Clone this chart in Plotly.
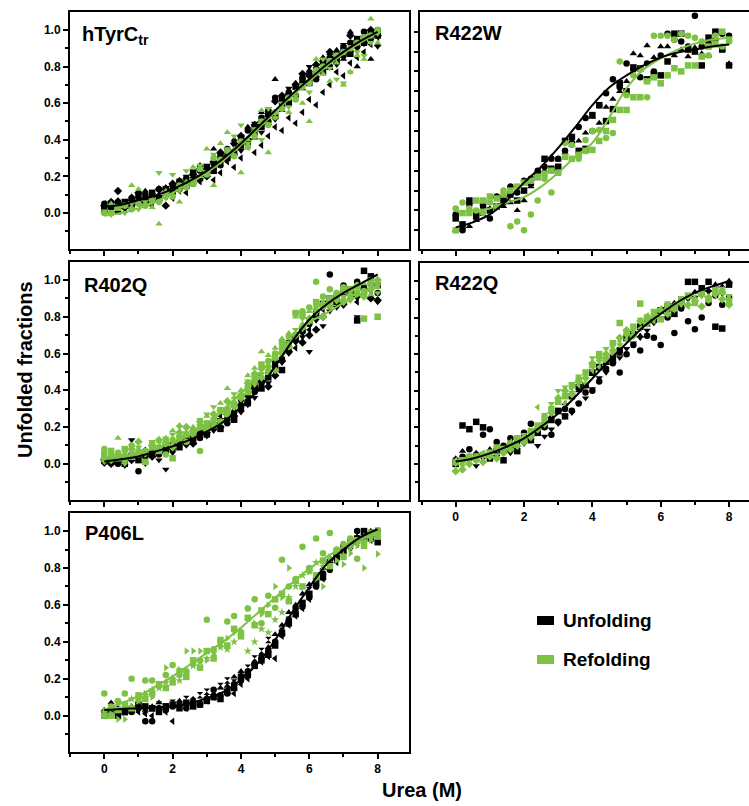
import plotly.graph_objects as go

# ---------------- data ----------------
X = [0.0, 0.2, 0.4, 0.6, 0.8, 1.0, 1.2, 1.4, 1.6, 1.8, 2.0, 2.2, 2.4, 2.6, 2.8, 3.0, 3.2, 3.4, 3.6, 3.8,
     4.0, 4.2, 4.4, 4.6, 4.8, 5.0, 5.2, 5.4, 5.6, 5.8, 6.0, 6.2, 6.4, 6.6, 6.8, 7.0, 7.2, 7.4, 7.6, 7.8, 8.0]
FX = [0.0, 0.5, 1.0, 1.5, 2.0, 2.5, 3.0, 3.5, 4.0, 4.5, 5.0, 5.5, 6.0, 6.5, 7.0, 7.5, 8.0]

panel_names = ["hTyrC<sub>tr</sub>", "R422W", "R402Q", "R422Q", "P406L"]
legend_labels = ["Unfolding", "Refolding"]

# hTyrCtr
p1_unf = {
    "square":        [.02, .05, .01, .06, .04, .09, .07, .11, .08, .13, .12, .17, .15, .22, .19, .25, .23, .31, .30, .33, .41, .39, .46, .47, .55, .53, .62, .60, .69, .72, .71, .78, .77, .84, .83, .90, .87, .95, .93, .98, .97],
    "circle":        [.05, .03, .06, .04, .08, .06, .10, .07, .13, .10, .15, .13, .19, .16, .23, .21, .27, .26, .35, .32, .37, .45, .43, .52, .50, .63, .58, .66, .64, .74, .76, .73, .82, .80, .87, .86, .93, .91, .99, .96, 1.0],
    "triangle-up":   [.01, .04, .07, .03, .09, .05, .12, .08, .07, .14, .11, .18, .14, .20, .26, .22, .35, .28, .33, .40, .36, .47, .41, .55, .49, .73, .56, .62, .71, .68, .78, .75, .85, .79, .89, .84, .99, .80, .97, .84, .92],
    "triangle-down": [.03, .0, .05, .02, .03, .08, .05, .10, .06, .09, .14, .12, .20, .17, .18, .26, .24, .32, .29, .37, .34, .40, .49, .44, .57, .51, .59, .68, .64, .70, .80, .74, .78, .86, .81, .92, .88, .90, .96, .94, .91],
    "diamond":       [.04, .06, .12, .05, .07, .11, .06, .09, .13, .04, .16, .14, .17, .21, .24, .20, .28, .33, .31, .38, .42, .40, .48, .50, .53, .61, .64, .65, .70, .76, .75, .81, .83, .88, .85, .87, .97, .94, .93, 1.0, .97],
    "triangle-left": [.05, .02, .04, .03, .06, .05, .07, .04, .10, .09, .08, .12, .11, .19, .17, .21, .18, .22, .28, .25, .30, .36, .33, .37, .42, .47, .45, .52, .49, .55, .62, .59, .66, .70, .77, .75, .82, .85, .88, .92, .96],
}
p1_ref = {
    "triangle-up":   [.0, .05, .02, .04, .15, .13, .05, .03, -.06, .12, .10, .06, .17, .25, .20, .35, .15, .38, .44, .35, .22, .40, .45, .56, .33, .52, .58, .55, .66, .60, .50, .84, .76, .72, .82, .70, .77, .86, .84, 1.06, .93],
    "triangle-down": [.01, -.01, .03, .0, .05, .02, .06, .07, .22, .08, .21, .12, .23, .18, .26, .22, .32, .28, .35, .42, .48, .38, .46, .40, .57, .52, .60, .58, .64, .70, .66, .76, .84, .79, .73, .71, .77, .88, .86, .93, .98],
    "circle":        [.0, .0, .03, .04, .02, .05, .04, .07, .06, .10, .09, .15, .14, .16, .24, .21, .30, .29, .34, .31, .39, .36, .42, .50, .48, .55, .57, .63, .62, .69, .71, .78, .80, .83, .86, .88, .90, .93, .96, .97, 1.0],
}
p1_fit_unf = [.035, .045, .07, .095, .13, .175, .23, .30, .38, .47, .56, .65, .73, .81, .88, .94, .99]
p1_fit_ref = [-.015, .0, .025, .06, .11, .16, .22, .29, .37, .46, .55, .64, .72, .80, .87, .93, .985]

# R422W
p2_unf = {
    "square":      [.06, .03, .15, .07, .14, .10, .12, .16, .18, .15, .20, .24, .28, .36, .31, .32, .45, .47, .40, .41, .58, .63, .55, .61, .74, .70, .82, .815, .76, .785, .78, .85, .99, .99, .91, .90, .83, .97, 1.0, .91, .83],
    "circle":      [.08, .0, .13, .09, .12, .06, .17, .14, .22, .19, .25, .26, .30, .32, .36, .36, .40, .44, .52, .565, .50, .63, .69, .76, .72, .84, .81, .77, .84, .80, .88, .99, .96, .95, .925, 1.08, .925, .94, .96, .99, .98],
    "triangle-up": [.0, .015, .02, .05, .08, .11, .17, .12, .14, .10, .15, .22, .26, .30, .37, .355, .39, .43, .45, .49, .57, .54, .62, .66, .70, .75, .89, .88, .93, .87, .925, .925, .88, .91, .875, .92, .89, .88, .93, .91, .84],
}
p2_ref = {
    "square": [.0, .087, .087, .15, .15, .17, .16, .18, .20, .22, .24, .25, .27, .285, .30, .29, .37, .36, .38, .40, .405, .45, .50, .556, .606, .606, .67, .67, .75, .77, .74, .78, .816, .80, .83, .83, .875, .925, .94, 1.0, .96],
    "circle": [.11, .14, .11, .10, .087, .14, .12, .20, .02, .045, .0, .08, .15, .26, .19, .29, .44, .43, .36, .455, .50, .505, .465, .49, .85, .68, .78, .81, .67, .98, .98, .98, .96, .99, .98, .97, .95, .88, .98, .925, .95],
}
p2_fit_unf = [.015, .04, .08, .15, .24, .32, .415, .52, .63, .72, .78, .83, .87, .895, .91, .925, .935]
p2_fit_ref = [.095, .10, .11, .14, .167, .22, .29, .37, .44, .57, .715, .81, .866, .91, .94, .96, .97]

# R402Q
p3_unf = {
    "square":        [.02, .01, .03, .0, .04, .02, .06, .05, .08, .07, .10, .09, .14, .12, .17, .16, .20, .19, .25, .24, .30, .33, .43, .41, .47, .52, .51, .62, .68, .73, .78, .81, .87, .90, .88, .93, .95, .78, 1.05, 1.02, .97],
    "circle":        [.01, .03, .0, .02, .05, -.04, .04, .06, .05, .10, .08, .12, .11, .15, .14, .19, .21, .23, .22, .28, .35, .34, .39, .44, .49, .55, .57, .66, .70, .72, .76, .83, .86, 1.03, .91, .97, .94, .99, .96, .98, .93],
    "triangle-down": [.0, .02, .01, -.01, .13, .03, .0, .09, .02, -.03, .06, .11, .10, .13, .18, .15, .18, .24, .29, .31, .28, .32, .36, .46, .44, .50, .55, .60, .66, .69, .61, .78, .75, .83, .85, .86, .89, .80, .92, .90, .88],
    "diamond":       [.02, .0, .01, .03, .02, .05, .07, .04, .06, .08, .09, .12, .13, .11, .16, .17, .22, .20, .27, .26, .32, .37, .41, .45, .42, .48, .56, .61, .67, .66, .70, .73, .80, .86, .88, .87, .93, .91, .95, .90, .89],
    "triangle-left": [.01, .02, .04, .03, .05, .04, .06, .07, .09, .10, .11, .10, .14, .16, .19, .21, .22, .26, .29, .27, .33, .38, .45, .48, .51, .54, .66, .65, .63, .71, .73, .80, .84, .89, .91, .89, .92, .88, .96, .94, .98],
}
p3_ref = {
    "circle":        [.08, .04, .06, .02, .10, .05, .07, .11, .09, .05, .13, .15, .12, .17, .07, .19, .24, .23, .30, .33, .36, .42, .45, .52, .56, .60, .63, .69, .82, .83, .85, .99, .91, .95, .93, .96, .90, .97, .94, 1.0, .98],
    "square":        [.05, .07, .03, .08, .04, .06, .01, .09, .07, .12, .03, .14, .16, .18, .20, .22, .21, .29, .27, .32, .37, .39, .47, .54, .50, .58, .66, .64, .82, .81, .78, .88, .86, .90, .92, .94, .95, .93, .79, .99, .80],
    "triangle-up":   [.02, .05, .14, .06, .03, .08, .07, .10, .12, .14, .18, .21, .16, .20, .22, .26, .25, .33, .41, .36, .40, .48, .52, .61, .59, .63, .68, .71, .80, .76, .83, .86, .88, .87, .93, .90, .95, .96, .98, .92, .96],
    "triangle-down": [.01, .03, .04, .0, .06, .09, .05, .12, .08, .14, .16, .20, .19, .15, .24, .27, .31, .30, .28, .38, .35, .45, .43, .49, .55, .57, .62, .66, .73, .79, .77, .82, .85, .87, .90, .91, .89, .94, .92, .97, .93],
    "diamond":       [.03, .02, .05, .04, .08, .12, .06, .10, .13, .11, .09, .17, .20, .18, .23, .21, .27, .29, .34, .31, .37, .44, .49, .47, .53, .51, .60, .64, .70, .74, .79, .84, .80, .86, .89, .88, .92, .97, .91, .95, 1.0],
}
p3_fit_unf = [.013, .025, .04, .067, .095, .13, .175, .23, .31, .40, .53, .667, .785, .867, .93, .98, 1.03]
p3_fit_ref = [.03, .04, .06, .085, .11, .158, .21, .295, .385, .485, .585, .676, .77, .82, .875, .92, .97]

# R422Q
p4_unf = {
    "square":        [.0, .21, .19, .23, .20, .03, .07, .02, .09, .07, .14, .13, .17, .21, .24, .29, .26, .37, .42, .43, .50, .53, .56, .58, .62, .69, .71, .75, .78, .79, .84, .86, .82, .89, .995, .995, .96, .995, .75, .74, .98],
    "circle":        [.02, .04, .08, .05, .16, .19, .12, .10, .14, .12, .17, .22, .18, .20, .16, .23, .30, .29, .33, .39, .40, .45, .52, .55, .50, .60, .65, .62, .70, .69, .65, .80, .716, .85, .78, .736, .80, .88, .92, .87, .91],
    "triangle-up":   [.03, .07, .04, .06, .05, .08, .09, .07, .12, .14, .13, .16, .20, .23, .26, .28, .33, .37, .40, .43, .49, .52, .55, .56, .60, .68, .72, .70, .76, .80, .83, .86, .88, .87, .91, .94, .93, .95, .98, .97, 1.0],
    "triangle-down": [.0, .01, .02, -.01, .03, .05, .04, .07, .06, .09, .11, .13, .10, .15, .19, .22, .26, .28, .33, .36, .41, .47, .50, .55, .58, .63, .66, .69, .73, .77, .80, .83, .86, .85, .90, .91, .92, .94, .96, .93, .98],
}
p4_ref = {
    "diamond":       [-.04, -.03, .0, .02, .01, .04, .03, .06, .08, .10, .12, .15, .19, .22, .28, .36, .40, .38, .45, .47, .55, .58, .60, .62, .69, .73, .70, .78, .77, .80, .84, .82, .86, .88, .87, .89, .86, .91, .93, .90, .87],
    "square":        [.01, .02, .04, .03, .05, .06, .09, .08, .11, .14, .13, .18, .21, .25, .30, .34, .37, .43, .46, .50, .54, .60, .57, .66, .77, .72, .75, .876, .80, .83, .79, .86, .85, .90, .92, .88, .93, .90, .95, .94, .89],
    "triangle-down": [.0, -.01, .03, .05, .04, .07, .05, .09, .10, .13, .16, .14, .20, .27, .33, .40, .42, .39, .48, .44, .58, .56, .63, .60, .65, .70, .74, .79, .76, .81, .83, .88, .84, .87, .91, .90, .92, .89, .94, .96, .92],
    "triangle-left": [.02, .0, .01, .04, .06, .05, .08, .07, .12, .10, .15, .17, .31, .26, .29, .35, .33, .41, .43, .49, .51, .53, .59, .64, .67, .68, .72, .74, .81, .78, .85, .82, .87, .89, .86, .91, .93, .90, .92, .95, .91],
}
p4_fit_unf = [.013, .03, .058, .095, .14, .204, .276, .367, .467, .567, .66, .75, .82, .885, .935, .97, 1.0]

# P406L
p5_unf = {
    "square":        [.0, .03, .0, .02, .03, .06, .05, .04, .02, .05, .06, .04, .07, .05, .06, .08, .10, .09, .13, .15, .21, .22, .27, .30, .33, .38, .45, .50, .55, .61, .66, .72, .75, .83, .86, .89, .93, .96, 1.0, .96, .94],
    "circle":        [.02, .03, .01, .03, .02, .04, -.03, -.03, .04, .03, .05, .06, .04, .07, .06, .09, .14, .11, .12, .17, .19, .24, .28, .31, .35, .40, .44, .52, .58, .59, .64, .70, .77, .79, .85, .92, .95, 1.0, .97, .99, 1.0],
    "triangle-up":   [.03, .07, .04, .02, .05, .06, .03, .05, .07, .04, .05, .08, .06, .09, .07, .10, .12, .15, .16, .21, .24, .23, .29, .33, .37, .44, .49, .56, .60, .66, .71, .75, .80, .84, .88, .91, .94, .97, .99, 1.0, .98],
    "hourglass":     [.01, .02, .03, .02, .04, .05, .03, .04, .06, .05, .07, .06, .09, .08, .11, .13, .12, .16, .19, .18, .22, .26, .31, .35, .41, .39, .46, .52, .57, .61, .68, .73, .76, .81, .87, .90, .92, .95, .97, .99, 1.0],
    "triangle-left": [.0, .01, .02, .04, .03, .02, .01, .0, .03, .02, -.03, .05, .04, .06, .07, .08, .10, .11, .14, .12, .17, .20, .27, .29, .32, .31, .43, .49, .54, .58, .63, .70, .74, .79, .83, .87, .91, .93, .96, .95, .97],
}
p5_ref = {
    "circle":         [.12, .05, .08, .12, .20, .10, .19, .19, .16, .22, .275, .22, .24, .28, .30, .52, .36, .40, .51, .54, .45, .58, .63, .50, .65, .585, .845, .70, .74, .915, .80, .96, .88, .99, .90, .93, .96, .85, .94, .98, 1.0],
    "triangle-right": [.03, .01, -.02, -.02, .05, .08, .12, .10, .17, .26, .20, .25, .35, .35, .35, .30, .33, .38, .42, .45, .46, .58, .50, .55, .60, .70, .64, .80, .72, .695, .78, .74, .70, .86, .84, .82, .88, .92, .80, .95, .876],
    "star":           [.02, .04, .07, .06, .09, .08, .11, .14, .15, .18, .20, .19, .23, .27, .29, .31, .34, .37, .36, .40, .43, .35, .40, .47, .45, .52, .56, .64, .70, .76, .78, .83, .81, .85, .89, .87, .91, .94, .97, .96, .99],
    "square":         [.0, .0, .03, .06, .04, .11, .09, .12, .17, .15, .18, .24, .21, .30, .26, .35, .31, .41, .38, .47, .43, .53, .49, .57, .55, .63, .66, .62, .73, .70, .79, .76, .84, .81, .89, .86, .93, .95, .92, .99, .97],
}
p5_fit_unf = [.03, .036, .04, .045, .05, .067, .095, .13, .195, .285, .41, .56, .695, .82, .90, .967, 1.01]
p5_fit_ref = [.03, .067, .107, .158, .213, .276, .34, .404, .476, .558, .64, .72, .795, .86, .913, .958, .985]

BLACK = "#000000"
GREEN = "#7DC243"

W, H = 749, 806
FONT = "Liberation Sans, Arial, Helvetica, sans-serif"

panels = [
    dict(unf=p1_unf, ref=p1_ref, fu=p1_fit_unf, fr=p1_fit_ref, xpx=(70, 409), ypx=(12, 249), yr=[-0.197, 1.098], xl=False, right=False),
    dict(unf=p2_unf, ref=p2_ref, fu=p2_fit_unf, fr=p2_fit_ref, xpx=(420, 749), ypx=(12, 249), yr=[-0.094, 1.099], xl=False, right=True),
    dict(unf=p3_unf, ref=p3_ref, fu=p3_fit_unf, fr=p3_fit_ref, xpx=(70, 409), ypx=(262, 500), yr=[-0.197, 1.098], xl=False, right=False),
    dict(unf=p4_unf, ref=p4_ref, fu=p4_fit_unf, fr=None, xpx=(420, 749), ypx=(263, 500), yr=[-0.197, 1.098], xl=True, right=True),
    dict(unf=p5_unf, ref=p5_ref, fu=p5_fit_unf, fr=p5_fit_ref, xpx=(70, 409), ypx=(513, 752), yr=[-0.197, 1.098], xl=True, right=False),
]

fig = go.Figure()
layout = {}
PXU = 34.17  # px per urea unit
MS = 6.5
for k, p in enumerate(panels):
    n = "" if k == 0 else str(k + 1)
    xa, ya = "x" + n, "y" + n
    x0px = 104.3 if not p["right"] else 455.7
    xr = [(p["xpx"][0] - x0px) / PXU, (p["xpx"][1] - x0px) / PXU]
    for sym, vals in p["unf"].items():
        fig.add_trace(go.Scatter(x=X[:len(vals)], y=vals, mode="markers", xaxis=xa, yaxis=ya,
                                 marker=dict(symbol=sym, size=MS, color=BLACK, line=dict(width=0)),
                                 showlegend=False, cliponaxis=True))
    for sym, vals in p["ref"].items():
        fig.add_trace(go.Scatter(x=X[:len(vals)], y=vals, mode="markers", xaxis=xa, yaxis=ya,
                                 marker=dict(symbol=sym, size=MS, color=GREEN, line=dict(width=0)),
                                 showlegend=False, cliponaxis=True))
    if p["fr"] is not None:
        fig.add_trace(go.Scatter(x=FX, y=p["fr"], mode="lines", line=dict(color=GREEN, width=2, shape="spline"),
                                 xaxis=xa, yaxis=ya, showlegend=False))
    fig.add_trace(go.Scatter(x=FX, y=p["fu"], mode="lines", line=dict(color=BLACK, width=2, shape="spline"),
                             xaxis=xa, yaxis=ya, showlegend=False))

    tickfont = dict(family=FONT, size=12, color="black", weight="bold")
    layout["xaxis" + n] = dict(
        domain=[p["xpx"][0] / W, p["xpx"][1] / W], range=xr, anchor=ya,
        showline=True, linecolor="black", linewidth=2, mirror=True,
        ticks="outside", ticklen=5, tickwidth=2, tickcolor="black",
        tick0=0, dtick=2, showticklabels=p["xl"], tickfont=tickfont,
        minor=dict(ticks="outside", ticklen=3, tickwidth=1.5, tickcolor="black", dtick=1, tick0=0),
        showgrid=False, zeroline=False, fixedrange=True,
    )
    if p["right"] and k == 1:
        ytick = dict(tick0=0, dtick=0.1)
        yminor = dict(ticks="", dtick=0.1)
    else:
        ytick = dict(tick0=0, dtick=0.2)
        yminor = dict(ticks="outside", ticklen=3, tickwidth=1.5, tickcolor="black", dtick=0.1, tick0=0)
    layout["yaxis" + n] = dict(
        domain=[1 - p["ypx"][1] / H, 1 - p["ypx"][0] / H], range=p["yr"], anchor=xa,
        showline=True, linecolor="black", linewidth=2, mirror=(not p["right"]),
        ticks="outside", ticklen=5 if not p["right"] else 4, tickwidth=2, tickcolor="black",
        showticklabels=not p["right"], tickfont=tickfont, tickformat=".1f",
        minor=yminor, showgrid=False, zeroline=False, fixedrange=True, **ytick,
    )

annotations = []
label_pos = [(80, 35), (433, 33), (82, 285), (433, 283), (83, 533)]
for name, (lx, ly) in zip(panel_names, label_pos):
    annotations.append(dict(text="<b>" + name + "</b>", x=lx / W, y=1 - ly / H, xref="paper", yref="paper",
                            xanchor="left", yanchor="middle", showarrow=False,
                            font=dict(family=FONT, size=20, color="black")))
annotations.append(dict(text="<b>Unfolded fractions</b>", x=25 / W, y=1 - 370 / H, xref="paper", yref="paper",
                        textangle=-90, showarrow=False, xanchor="center", yanchor="middle",
                        font=dict(family=FONT, size=20, color="black")))
annotations.append(dict(text="<b>Urea (M)</b>", x=422 / W, y=1 - 790 / H, xref="paper", yref="paper",
                        showarrow=False, xanchor="center", yanchor="middle",
                        font=dict(family=FONT, size=20, color="black")))
shapes = []
for lab, col, cy in zip(legend_labels, [BLACK, GREEN], [620.5, 659.5]):
    shapes.append(dict(type="rect", xref="paper", yref="paper", x0=537 / W, x1=554 / W,
                       y0=1 - (cy + 4.5) / H, y1=1 - (cy - 4.5) / H, fillcolor=col, line=dict(width=0)))
    annotations.append(dict(text="<b>" + lab + "</b>", x=561 / W, y=1 - cy / H, xref="paper", yref="paper",
                            xanchor="left", yanchor="middle", showarrow=False,
                            font=dict(family=FONT, size=19, color="black")))

fig.update_layout(width=W, height=H, autosize=False, margin=dict(l=0, r=0, t=0, b=0),
                  paper_bgcolor="white", plot_bgcolor="white", showlegend=False,
                  annotations=annotations, shapes=shapes, **layout)
fig.write_html("out.html", config={"displayModeBar": False},
               post_script="document.body.style.margin='0';document.body.style.overflow='hidden';")
